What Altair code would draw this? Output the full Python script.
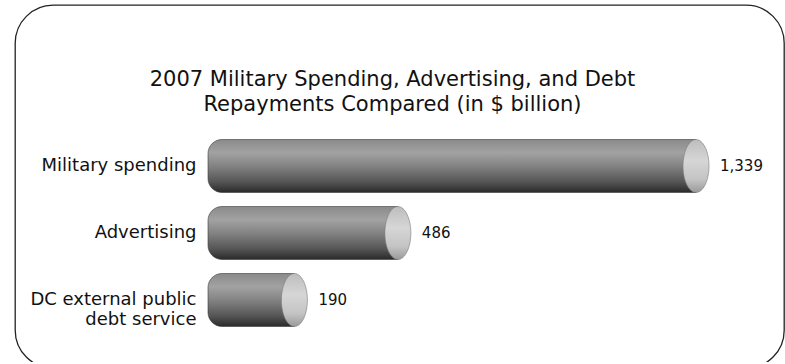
import altair as alt
import pandas as pd

# ---- data ----
categories = ["Military spending", "Advertising", "DC external public|debt service"]
values = [1339, 486, 190]
title_lines = ["2007 Military Spending, Advertising, and Debt",
               "Repayments Compared (in $ billion)"]

df = pd.DataFrame({"category": categories, "value": values})

FONT = "DejaVu Sans"

x_scale = alt.Scale(domainMin=0, nice=False, zero=True, range=[213, 681])
y_scale = alt.Scale(domain=categories, range=[134.5, 321.5],
                    paddingInner=0.209, paddingOuter=0)

body_grad = alt.Gradient(
    gradient="linear", x1=0, x2=0, y1=0, y2=1,
    stops=[alt.GradientStop(color="#8a8a8a", offset=0),
           alt.GradientStop(color="#a2a2a2", offset=0.25),
           alt.GradientStop(color="#838383", offset=0.5),
           alt.GradientStop(color="#555555", offset=0.8),
           alt.GradientStop(color="#2a2a2a", offset=1)])

cap_grad = alt.Gradient(
    gradient="linear", x1=0, x2=0, y1=0, y2=1,
    stops=[alt.GradientStop(color="#bdbdbd", offset=0),
           alt.GradientStop(color="#d6d6d6", offset=0.4),
           alt.GradientStop(color="#c4c4c4", offset=0.75),
           alt.GradientStop(color="#9a9a9a", offset=1)])

base = alt.Chart(df).encode(
    y=alt.Y("category:N", scale=y_scale, sort=categories, title=None,
            axis=alt.Axis(orient="left", offset=-181, ticks=False, domain=False,
                          labelPadding=0, labelFont=FONT, labelFontSize=18,
                          labelColor="#111111", labelLimit=400, labelLineHeight=20,
                          labelExpr="split(datum.label, '|')"))
)

body = base.mark_bar(
    color=body_grad, stroke="#3a3a3a", strokeWidth=0.6,
    cornerRadiusTopLeft=14, cornerRadiusBottomLeft=14, x2Offset=-20
).encode(
    x=alt.X("value:Q", scale=x_scale, axis=None),
    x2=alt.datum(0),
)

cap_path = "M-0.49,0A0.49,1,0,1,0,0.49,0A0.49,1,0,1,0,-0.49,0Z"
cap = base.mark_point(
    shape=cap_path, size=53 * 53, filled=True, fill=cap_grad, opacity=1,
    stroke="#7a7a7a", strokeWidth=0.6
).encode(x=alt.X("value:Q", scale=x_scale, axis=None))

labels = base.mark_text(
    align="left", baseline="middle", dx=24, font=FONT, fontSize=15, color="#111111"
).encode(
    x=alt.X("value:Q", scale=x_scale, axis=None),
    text=alt.Text("value:Q", format=","),
)

chart = alt.layer(body, cap, labels).properties(
    width=769,
    height=363,
    background="white",
    autosize=alt.AutoSizeParams(type="none"),
    padding={"left": 15, "top": 5, "right": 1, "bottom": -6},
    title=alt.TitleParams(text=title_lines, font=FONT, fontSize=21,
                          fontWeight="normal", color="#111111", lineHeight=25,
                          anchor="middle", frame="group", orient="top",
                          offset=-110, dx=-7),
).configure_view(
    stroke="#222222", strokeWidth=1.3, cornerRadius=38, fill="white"
)

chart.save("out.html", embed_options={"renderer": "svg", "actions": False})
